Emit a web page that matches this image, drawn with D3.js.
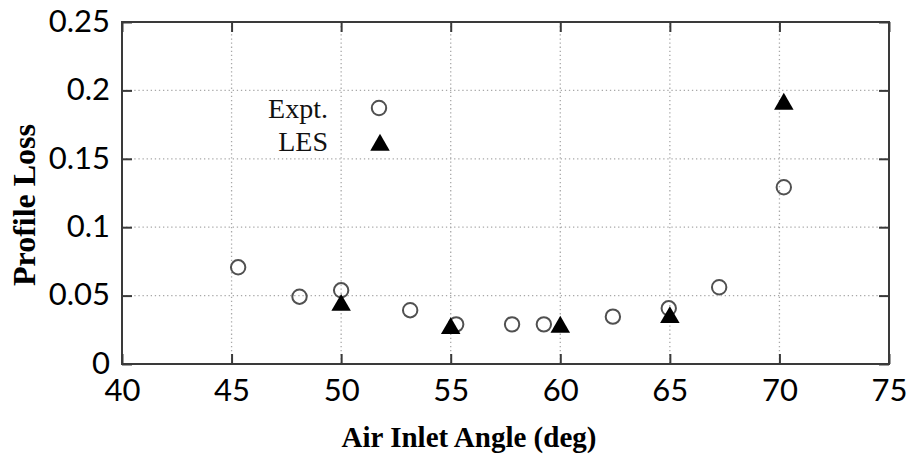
<!DOCTYPE html>
<html>
<head>
<meta charset="utf-8">
<script src="https://cdn.jsdelivr.net/npm/d3@7"></script>
<style>
  html, body { margin: 0; padding: 0; background: #fff; }
  svg { display: block; }
</style>
</head>
<body>
<svg id="chart" width="914" height="456"></svg>
<script>
// Measured profile loss versus air inlet angle
const exptAngle = [45.3, 48.1, 50.0, 53.15, 55.25, 57.8, 59.25, 62.4, 64.95, 67.25, 70.2];
const exptLoss  = [0.0707, 0.0492, 0.0539, 0.0393, 0.029, 0.029, 0.029, 0.0346, 0.0407, 0.0561, 0.1292];

// LES predictions
const lesAngle = [50.0, 55.0, 60.0, 65.0, 70.2];
const lesLoss  = [0.043, 0.026, 0.027, 0.034, 0.19];

const xTicks = [40, 45, 50, 55, 60, 65, 70, 75];
const yTicks = [0, 0.05, 0.1, 0.15, 0.2, 0.25];
const yTickLabels = ["0", "0.05", "0.1", "0.15", "0.2", "0.25"];

const legendLabels = ["Expt.", "LES"];

const svg = d3.select("#chart");
const plotLeft = 122, plotRight = 889, plotTop = 22, plotBottom = 364;

const x = d3.scaleLinear().domain([40, 75]).range([plotLeft, plotRight]);
const y = d3.scaleLinear().domain([0, 0.25]).range([plotBottom, plotTop]);

const axisColor = "#3a3a3a";
const tickFont = "Lato, 'Open Sans', sans-serif";
const serif = "'Liberation Serif', 'DejaVu Serif', serif";

// dotted grid
const grid = svg.append("g");
grid.selectAll("line.vx").data(xTicks.slice(1, -1)).join("line")
  .attr("class", "vx")
  .attr("x1", d => x(d)).attr("x2", d => x(d))
  .attr("y1", plotTop).attr("y2", plotBottom)
  .attr("stroke", "#a8a8a8").attr("stroke-width", 1.3)
  .attr("stroke-dasharray", "1.3,2.8");
grid.selectAll("line.hy").data(yTicks.slice(1, -1)).join("line")
  .attr("class", "hy")
  .attr("x1", plotLeft).attr("x2", plotRight)
  .attr("y1", d => y(d)).attr("y2", d => y(d))
  .attr("stroke", "#a8a8a8").attr("stroke-width", 1.3)
  .attr("stroke-dasharray", "1.3,2.8");

// axes: tick marks pointing inward on all four sides
const tickLen = 10;
const bottomAxis = svg.append("g").attr("transform", `translate(0,${plotBottom})`)
  .call(d3.axisBottom(x).tickValues(xTicks).tickSize(-tickLen).tickPadding(12).tickFormat(d3.format("d")));
const topAxis = svg.append("g").attr("transform", `translate(0,${plotTop})`)
  .call(d3.axisTop(x).tickValues(xTicks).tickSize(-tickLen).tickFormat(""));
const leftAxis = svg.append("g").attr("transform", `translate(${plotLeft},0)`)
  .call(d3.axisLeft(y).tickValues(yTicks).tickSize(-tickLen).tickPadding(12)
    .tickFormat((d, i) => yTickLabels[i]));
const rightAxis = svg.append("g").attr("transform", `translate(${plotRight},0)`)
  .call(d3.axisRight(y).tickValues(yTicks).tickSize(-tickLen).tickFormat(""));

[bottomAxis, topAxis, leftAxis, rightAxis].forEach(g => {
  g.select(".domain").remove();
  g.selectAll(".tick line").attr("stroke", axisColor).attr("stroke-width", 2);
  g.selectAll(".tick text").attr("fill", "#000")
    .style("font-family", tickFont).style("font-size", "31px");
});
bottomAxis.selectAll(".tick text").attr("dy", "0.71em").attr("y", 15);
leftAxis.selectAll(".tick text").attr("x", -12).attr("dy", "0.3em");

// frame
svg.append("rect")
  .attr("x", plotLeft).attr("y", plotTop)
  .attr("width", plotRight - plotLeft).attr("height", plotBottom - plotTop)
  .attr("fill", "none").attr("stroke", axisColor).attr("stroke-width", 2);

// axis titles
svg.append("text")
  .attr("x", 469).attr("y", 447)
  .attr("text-anchor", "middle")
  .style("font-family", serif).style("font-weight", "bold").style("font-size", "29px")
  .attr("fill", "#000")
  .text("Air Inlet Angle (deg)");
svg.append("text")
  .attr("transform", "translate(35,205) rotate(-90)")
  .attr("text-anchor", "middle")
  .style("font-family", serif).style("font-weight", "bold").style("font-size", "32px")
  .attr("fill", "#000")
  .text("Profile Loss");

const triangle = d3.symbol().type(d3.symbolTriangle).size(165);

// experiment markers
const expt = exptAngle.map((a, i) => ({ a, v: exptLoss[i] }));
svg.append("g").selectAll("circle").data(expt).join("circle")
  .attr("cx", d => x(d.a)).attr("cy", d => y(d.v)).attr("r", 7.2)
  .attr("fill", "none").attr("stroke", "#505050").attr("stroke-width", 2);

// LES markers
const les = lesAngle.map((a, i) => ({ a, v: lesLoss[i] }));
svg.append("g").selectAll("path").data(les).join("path")
  .attr("transform", d => `translate(${x(d.a)},${y(d.v)})`)
  .attr("d", triangle)
  .attr("fill", "#000");

// legend
const legend = svg.append("g");
legend.selectAll("text").data(legendLabels).join("text")
  .attr("x", 328).attr("y", (d, i) => 118 + i * 33)
  .attr("text-anchor", "end")
  .style("font-family", serif).style("font-size", "28px")
  .attr("fill", "#111")
  .text(d => d);
legend.append("circle")
  .attr("cx", 379).attr("cy", 108).attr("r", 7.2)
  .attr("fill", "none").attr("stroke", "#505050").attr("stroke-width", 2);
legend.append("path")
  .attr("transform", "translate(380,145)")
  .attr("d", triangle)
  .attr("fill", "#000");
</script>
</body>
</html>
